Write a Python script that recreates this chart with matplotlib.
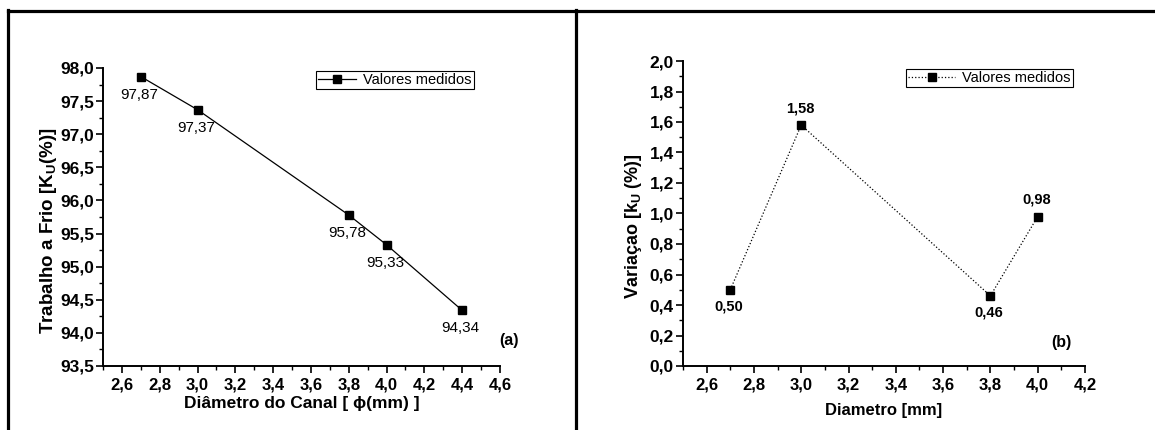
import matplotlib
matplotlib.use("Agg")
import matplotlib.pyplot as plt
from matplotlib.lines import Line2D
from matplotlib.ticker import MultipleLocator, FuncFormatter

plt.rcParams['font.family'] = ['Liberation Sans', 'DejaVu Sans']
plt.rcParams['mathtext.fontset'] = 'custom'
plt.rcParams['mathtext.rm'] = 'Liberation Sans'
plt.rcParams['mathtext.bf'] = 'Liberation Sans:bold'

# ---- data ----
diam_a = [2.7, 3.0, 3.8, 4.0, 4.4]
trabalho = [97.87, 97.37, 95.78, 95.33, 94.34]
labels_a = ["97,87", "97,37", "95,78", "95,33", "94,34"]

diam_b = [2.7, 3.0, 3.8, 4.0]
variacao = [0.50, 1.58, 0.46, 0.98]
labels_b = ["0,50", "1,58", "0,46", "0,98"]
label_side_b = [-1, 1, -1, 1]

W, H = 1155, 430
fig = plt.figure(figsize=(W / 100, H / 100), dpi=100)

def fx(px):
    return px / W

def fy(py):
    return 1 - py / H

comma = FuncFormatter(lambda v, p: f"{v:.1f}".replace(".", ","))

def style_axes(ax):
    for s in ['top', 'right']:
        ax.spines[s].set_visible(False)
    for s in ['left', 'bottom']:
        ax.spines[s].set_linewidth(1.4)
    ax.tick_params(which='major', direction='out', length=5, width=1.2)
    ax.tick_params(axis='y', which='major', pad=1.5, labelsize=12.5)
    ax.tick_params(axis='x', which='major', pad=3, labelsize=12)
    ax.tick_params(which='minor', direction='out', length=3, width=1.0)
    ax.xaxis.set_major_formatter(comma)
    ax.yaxis.set_major_formatter(comma)
    for lab in ax.get_xticklabels() + ax.get_yticklabels():
        lab.set_fontweight('bold')

# ---- panel (a) ----
axa = fig.add_axes([fx(103), fy(366), fx(500) - fx(103), fy(68) - fy(366)])
axa.plot(diam_a, trabalho, '-', color='black', lw=0.9, marker='s', ms=5.5,
         label='Valores medidos')
axa.set_xlim(2.5, 4.6)
axa.set_ylim(93.5, 98.0)
axa.set_xticks([2.6, 2.8, 3.0, 3.2, 3.4, 3.6, 3.8, 4.0, 4.2, 4.4, 4.6])
axa.xaxis.set_minor_locator(MultipleLocator(0.1))
axa.yaxis.set_major_locator(MultipleLocator(0.5))
axa.yaxis.set_minor_locator(MultipleLocator(0.25))
style_axes(axa)
for x, y, t in zip(diam_a, trabalho, labels_a):
    axa.annotate(t, (x, y), xytext=(-1, -13), textcoords='offset points',
                 ha='center', va='center', fontsize=11)
axa.set_xlabel("Diâmetro do Canal [ \u03d5(mm) ]", fontsize=12.5, fontweight='bold', labelpad=3)
axa.set_ylabel(r"Trabalho a Frio [K$_\mathregular{U}$(%)]", fontsize=13.5,
               fontweight='bold')
axa.yaxis.set_label_coords((59 - 103) / 397, (366 - 231) / 298)
leg = axa.legend(loc='upper left', bbox_to_anchor=(fx(316), fy(71)),
                 bbox_transform=fig.transFigure, borderaxespad=0, fancybox=False,
                 edgecolor='black', fontsize=10.5, handlelength=2.6, borderpad=0.15,
                 handletextpad=0.5, framealpha=1)
leg.get_frame().set_linewidth(0.8)
fig.text(fx(509), fy(341), "(a)", ha='center', va='center', fontsize=11.5, fontweight='bold')

# ---- panel (b) ----
axb = fig.add_axes([fx(683), fy(366), fx(1085) - fx(683), fy(61) - fy(366)])
axb.plot(diam_b, variacao, ':', color='black', lw=0.9, marker='s', ms=5.5,
         label='Valores medidos')
axb.set_xlim(2.5, 4.2)
axb.set_ylim(0.0, 2.0)
axb.set_xticks([2.6, 2.8, 3.0, 3.2, 3.4, 3.6, 3.8, 4.0, 4.2])
axb.xaxis.set_minor_locator(MultipleLocator(0.1))
axb.yaxis.set_major_locator(MultipleLocator(0.2))
axb.yaxis.set_minor_locator(MultipleLocator(0.1))
style_axes(axb)
for x, y, t, s in zip(diam_b, variacao, labels_b, label_side_b):
    axb.annotate(t, (x, y), xytext=(-1, 12 * s), textcoords='offset points',
                 ha='center', va='center', fontsize=10.5, fontweight='bold')
axb.set_xlabel("Diametro [mm]", fontsize=12, fontweight='bold', labelpad=8)
axb.set_ylabel(r"Variaçao [k$_\mathregular{U}$ (%)]", fontsize=13,
               fontweight='bold')
axb.yaxis.set_label_coords((644 - 683) / 402, (366 - 226) / 305)
legb = axb.legend(loc='upper left', bbox_to_anchor=(fx(906), fy(69)),
                  bbox_transform=fig.transFigure, borderaxespad=0, fancybox=False,
                  edgecolor='black', fontsize=10.5, handlelength=3.2, borderpad=0.15,
                  handletextpad=0.5, framealpha=1)
legb.get_frame().set_linewidth(0.8)
fig.text(fx(1061), fy(342), "(b)", ha='center', va='center', fontsize=11.5, fontweight='bold')

# ---- frame lines ----
lw = 2.3
fig.add_artist(Line2D([fx(8), fx(8)], [fy(10), 0], transform=fig.transFigure, color='black', lw=lw))
fig.add_artist(Line2D([fx(8), 1], [fy(11), fy(11)], transform=fig.transFigure, color='black', lw=lw))
fig.add_artist(Line2D([fx(576), fx(576)], [fy(10), 0], transform=fig.transFigure, color='black', lw=lw))

fig.savefig("out.png", dpi=100)
